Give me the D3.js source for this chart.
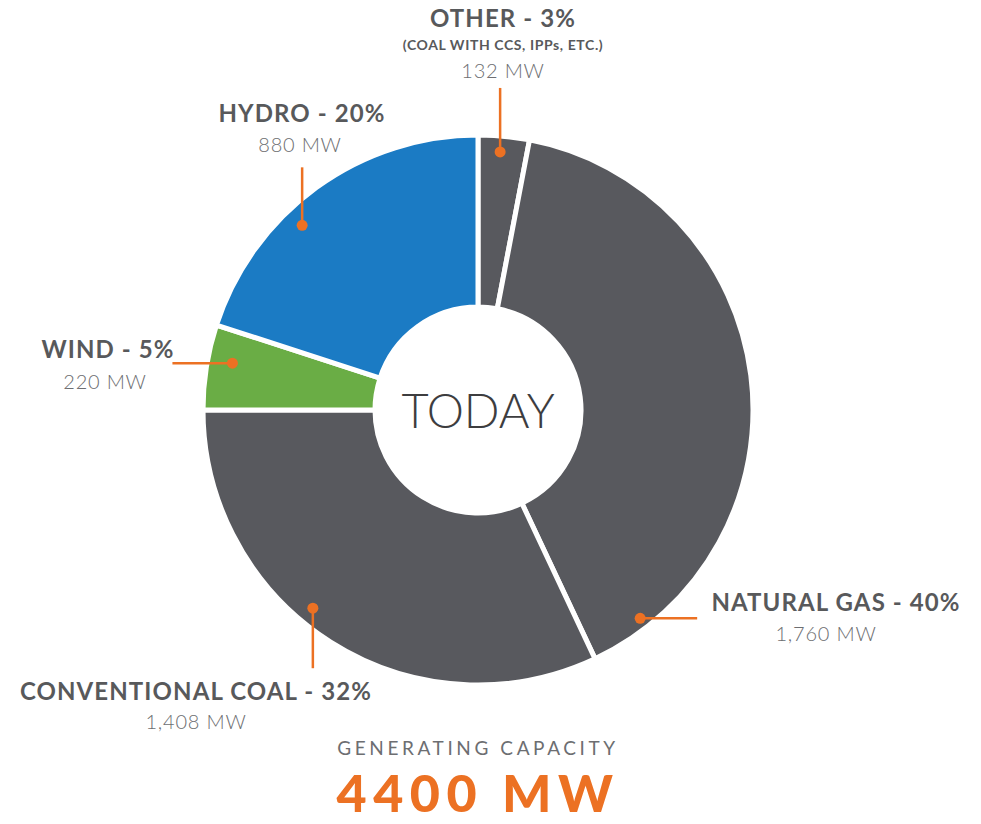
<!DOCTYPE html>
<html><head><meta charset="utf-8">
<script src="https://cdn.jsdelivr.net/npm/d3@7"></script>
<style>
html,body{margin:0;padding:0;background:#fff;}
svg{display:block;}
</style></head>
<body>
<svg id="chart" width="981" height="824"></svg>
<script>
// ---- data ----
const categories = ["OTHER", "NATURAL GAS", "CONVENTIONAL COAL", "WIND", "HYDRO"];
const capacityMW = [132, 1760, 1408, 220, 880];
const percentLabels = ["3%", "40%", "32%", "5%", "20%"];
const mwLabels = ["132 MW", "1,760 MW", "1,408 MW", "220 MW", "880 MW"];
const subLabels = ["(COAL WITH CCS, IPPs, ETC.)", "", "", "", ""];
const centerLabel = "TODAY";
const footerTitle = "GENERATING CAPACITY";
const footerTotal = "4400 MW";

// ---- style / layout ----
const colors = ["#58595e", "#58595e", "#58595e", "#6aad45", "#1b7bc4"];
const orange = "#ec7123";
const textGray = "#58595b";
const cx = 478, cy = 410, rOuter = 275, rInner = 103;
// callout layout: angle of dot (deg), dot radius, line end offset, label anchor
const callouts = [
  {ang: 4.9,   r: 259, end: [0, -64],  lx: 503, ly: 27,  sy: 50, my: 78, mx: 0},
  {ang: 142.1, r: 264, end: [57, 0],   lx: 836, ly: 611, my: 641, mx: -10},
  {ang: 219.8, r: 258, end: [0, 60],   lx: 196, ly: 700, my: 729, mx: 0},
  {ang: 280.8, r: 250, end: [-60, 0],  lx: 108, ly: 358, my: 389, mx: -3},
  {ang: 316.4, r: 255, end: [0, -58],  lx: 302, ly: 122, my: 152, mx: -2}
];

const svg = d3.select("#chart");
const g = svg.append("g").attr("transform", `translate(${cx},${cy})`);

const pie = d3.pie().sort(null).value(d => d)(capacityMW);
const arc = d3.arc().innerRadius(rInner).outerRadius(rOuter);

g.selectAll("path.slice").data(pie).join("path")
  .attr("class", "slice")
  .attr("d", arc)
  .attr("fill", (d, i) => colors[i])
  .attr("stroke", "#fff")
  .attr("stroke-width", 5)
  .attr("stroke-linejoin", "miter");

// center white circle
g.append("circle").attr("r", rInner).attr("fill", "#fff");

g.append("text").text(centerLabel)
  .attr("text-anchor", "middle").attr("y", 18)
  .attr("font-family", "Lato, 'DejaVu Sans', sans-serif")
  .attr("font-weight", 300)
  .attr("font-size", 47)
  .attr("fill", "#3d3d3f");

// callouts
const font = "Lato, 'DejaVu Sans', sans-serif";
callouts.forEach((c, i) => {
  const a = c.ang * Math.PI / 180;
  const dx = cx + c.r * Math.sin(a), dy = cy - c.r * Math.cos(a);
  svg.append("line")
    .attr("x1", dx).attr("y1", dy)
    .attr("x2", dx + c.end[0]).attr("y2", dy + c.end[1])
    .attr("stroke", orange).attr("stroke-width", 2.5);
  svg.append("circle").attr("cx", dx).attr("cy", dy).attr("r", 5.5).attr("fill", orange);

  svg.append("text").text(`${categories[i]} - ${percentLabels[i]}`)
    .attr("x", c.lx).attr("y", c.ly)
    .attr("text-anchor", "middle")
    .attr("font-family", font).attr("font-weight", 700)
    .attr("font-size", 24).attr("letter-spacing", 1.1)
    .attr("fill", textGray);
  if (subLabels[i]) {
    svg.append("text").text(subLabels[i])
      .attr("x", c.lx).attr("y", c.sy)
      .attr("text-anchor", "middle")
      .attr("font-family", font).attr("font-weight", 700)
      .attr("font-size", 14).attr("letter-spacing", 0.6)
      .attr("fill", textGray);
  }
  svg.append("text").text(mwLabels[i])
    .attr("x", c.lx + c.mx).attr("y", c.my)
    .attr("text-anchor", "middle")
    .attr("font-family", font).attr("font-weight", 300)
    .attr("font-size", 20).attr("letter-spacing", 0.8)
    .attr("fill", "#6d6e71");
});

svg.append("text").text(footerTitle)
  .attr("x", cx).attr("y", 755).attr("text-anchor", "middle")
  .attr("font-family", font).attr("font-weight", 400)
  .attr("font-size", 19).attr("letter-spacing", 3.6)
  .attr("fill", "#6d6e71");
svg.append("text").text(footerTotal)
  .attr("x", cx).attr("y", 812).attr("text-anchor", "middle")
  .attr("font-family", font).attr("font-weight", 900)
  .attr("font-size", 52).attr("letter-spacing", 6.5)
  .attr("fill", orange);
</script>
</body></html>
